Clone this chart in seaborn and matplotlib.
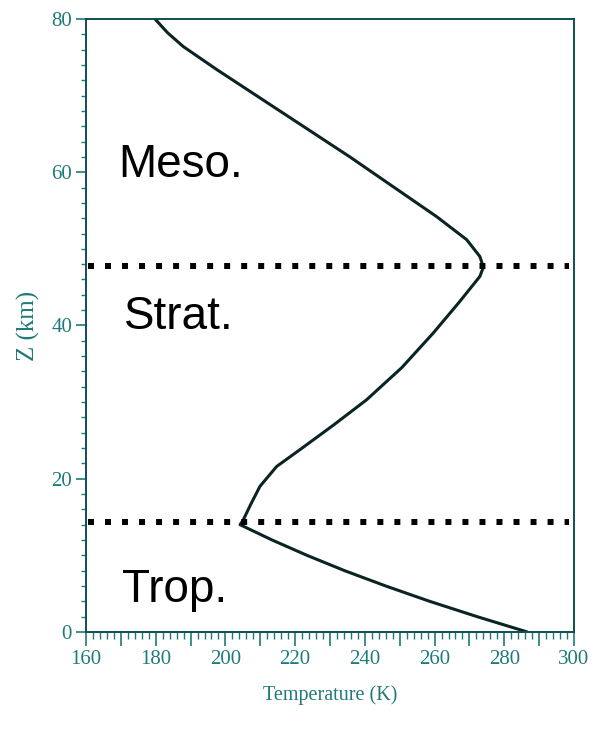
import numpy as np
import pandas as pd
import matplotlib
matplotlib.use("Agg")
import matplotlib.pyplot as plt
from matplotlib.ticker import MultipleLocator, FuncFormatter
import seaborn as sns

# temperature profile (T in K, Z in km)
height_km = [0, 2, 4, 6, 8, 10, 12, 14.0, 14.6, 16.6, 19.0, 21.6, 23.8, 27.0, 30.3, 34.5, 39.0,
             43.0, 46.4, 47.6, 49.0, 51.2, 54.2, 62.0, 67.7, 73.4, 76.4, 78.2, 79.2, 80]
temp_k = [286.6, 272.2, 258.6, 246.0, 234.2, 223.4, 213.4, 204.2, 205.1, 207.2, 209.9, 214.7,
          221.4, 231.0, 240.5, 250.6, 259.6, 267.0, 273.0, 274.0, 273.0, 269.2, 260.6, 235.7,
          216.6, 197.5, 187.9, 183.4, 181.4, 179.8]

# layer boundaries (km)
tropopause = 14.3
stratopause = 47.7

layer_names = ["Meso.", "Strat.", "Trop."]
layer_text_T = [169.2, 170.9, 170.3]
layer_text_z = [59.4, 39.6, 3.9]

profile = pd.DataFrame({"T": temp_k, "Z": height_km})

sns.set_style("ticks")
plt.rcParams["font.family"] = ["Liberation Serif", "DejaVu Serif"]

teal = "#1f7a7a"
spine_col = "#0f4f50"

fig = plt.figure(figsize=(6.03, 7.29), dpi=100)
ax = fig.add_axes([0.1426, 0.1331, 0.8093, 0.8409])

sns.lineplot(data=profile, x="T", y="Z", sort=False, estimator=None,
             color="#0a2424", linewidth=2.2, ax=ax)

for zb in [tropopause, stratopause]:
    ax.axhline(zb, xmin=0.005, xmax=0.99, color="black", linewidth=4.3,
               linestyle=(0, (1, 1.85)), dash_capstyle="butt")

for name, tx, tz in zip(layer_names, layer_text_T, layer_text_z):
    ax.text(tx, tz, name, fontsize=33, family=["Liberation Sans", "DejaVu Sans"],
            color="black", ha="left", va="baseline")

ax.set_xlim(160, 300)
ax.set_ylim(0, 80)

ax.xaxis.set_major_locator(MultipleLocator(10))
ax.xaxis.set_minor_locator(MultipleLocator(2))
ax.xaxis.set_major_formatter(FuncFormatter(lambda v, p: f"{int(round(v))}" if round(v) % 20 == 0 else ""))
ax.yaxis.set_major_locator(MultipleLocator(20))
ax.yaxis.set_minor_locator(MultipleLocator(2))

ax.tick_params(axis="x", which="major", direction="out", length=10, width=1.2,
               color=teal, labelcolor=teal, labelsize=15, pad=3)
ax.tick_params(axis="x", which="minor", direction="out", length=5, width=1.0, color=teal)
ax.tick_params(axis="y", which="major", direction="out", length=7, width=1.2,
               color=teal, labelcolor=teal, labelsize=15, pad=3)
ax.tick_params(axis="y", which="minor", direction="out", length=3.6, width=1.0, color=teal)
ax.tick_params(top=False, right=False, which="both")

for s in ax.spines.values():
    s.set_visible(True)
    s.set_color(spine_col)
    s.set_linewidth(1.4)

ax.set_xlabel("Temperature (K)", color=teal, fontsize=14.5, labelpad=12)
ax.set_ylabel("Z (km)", color=teal, fontsize=18, labelpad=8)

fig.savefig("out.png", dpi=100)
